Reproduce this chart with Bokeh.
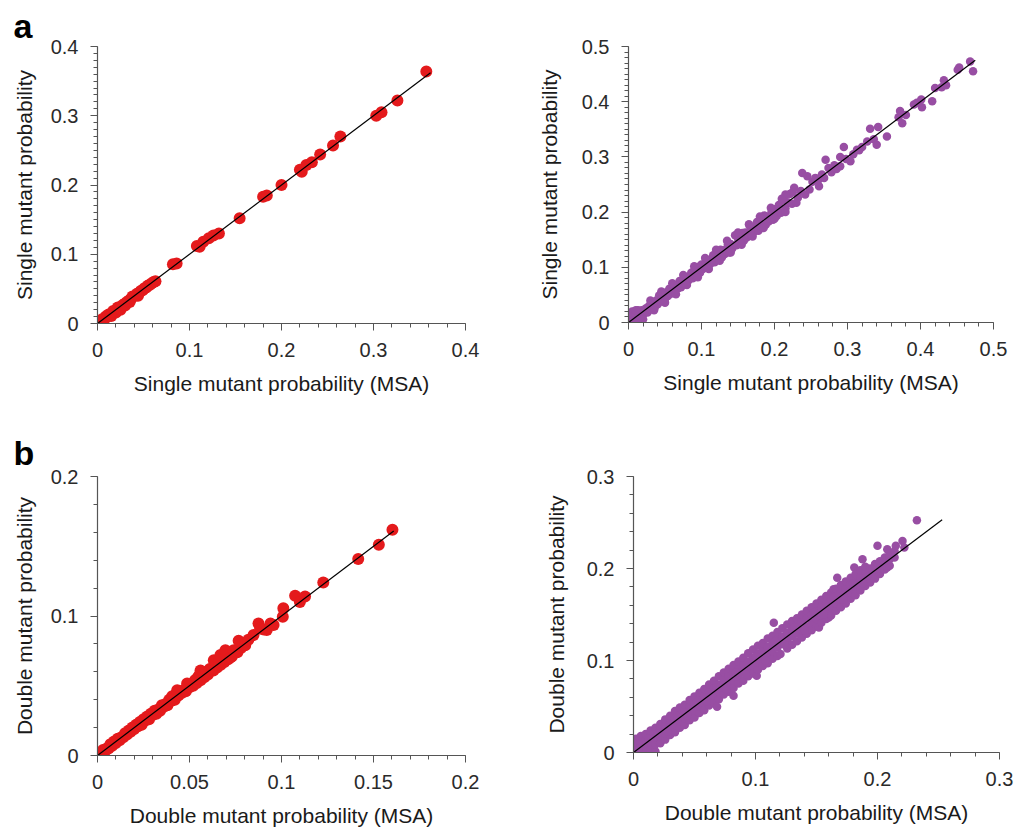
from bokeh.plotting import figure
from bokeh.layouts import column, row
from bokeh.models import Range1d, FixedTicker, Title
from bokeh.embed import file_html
from bokeh.resources import INLINE

# ---------------- data ----------------
# Panel a-left: single mutant probability, model (red) vs MSA
sm_red = [
    (0.000, 0.001), (0.001, 0.000), (0.002, 0.003), (0.003, 0.002), (0.004, 0.004),
    (0.005, 0.006), (0.006, 0.005), (0.008, 0.007), (0.009, 0.010), (0.011, 0.010),
    (0.012, 0.013), (0.014, 0.012), (0.016, 0.015), (0.017, 0.018), (0.019, 0.017),
    (0.021, 0.020), (0.022, 0.023), (0.024, 0.022), (0.026, 0.025), (0.028, 0.027),
    (0.030, 0.029), (0.032, 0.031), (0.034, 0.033), (0.036, 0.035), (0.038, 0.039),
    (0.041, 0.040), (0.043, 0.043), (0.045, 0.044), (0.047, 0.047), (0.049, 0.048),
    (0.051, 0.051), (0.053, 0.052), (0.055, 0.055), (0.057, 0.056), (0.059, 0.058),
    (0.061, 0.060), (0.063, 0.061), (0.015, 0.011), (0.020, 0.016), (0.025, 0.020),
    (0.030, 0.026), (0.035, 0.031), (0.044, 0.040),
    (0.082, 0.0855), (0.086, 0.0865), (0.108, 0.112), (0.111, 0.111), (0.115, 0.118),
    (0.121, 0.123), (0.126, 0.127), (0.132, 0.130), (0.1545, 0.152), (0.180, 0.183),
    (0.184, 0.185), (0.200, 0.200), (0.220, 0.222), (0.222, 0.219), (0.227, 0.229),
    (0.233, 0.233), (0.242, 0.244), (0.256, 0.257), (0.264, 0.270), (0.303, 0.300),
    (0.3087, 0.305), (0.326, 0.322), (0.3574, 0.364),
]
sm_red_fit = [0.0, 0.362]

# Panel a-right: single mutant probability, model (purple) vs MSA
sm_pur = [
    (0.001, 0.016), (0.002, 0.008), (0.004, 0.001), (0.005, 0.020), (0.006, 0.012),
    (0.008, 0.004), (0.010, 0.016), (0.012, 0.007), (0.013, 0.022), (0.014, 0.013),
    (0.016, 0.009), (0.018, 0.022), (0.020, 0.014), (0.022, 0.019), (0.024, 0.026),
    (0.026, 0.018), (0.028, 0.030), (0.030, 0.024), (0.032, 0.029), (0.034, 0.036),
    (0.036, 0.027), (0.038, 0.040), (0.040, 0.033), (0.042, 0.049), (0.044, 0.038),
    (0.046, 0.044), (0.048, 0.052), (0.050, 0.043), (0.052, 0.055), (0.054, 0.048),
    (0.056, 0.061), (0.058, 0.052), (0.060, 0.058), (0.062, 0.065), (0.064, 0.056),
    (0.066, 0.068), (0.068, 0.062), (0.070, 0.075), (0.072, 0.064), (0.074, 0.071),
    (0.076, 0.080), (0.078, 0.070), (0.080, 0.083), (0.082, 0.076), (0.084, 0.081),
    (0.086, 0.090), (0.088, 0.080), (0.090, 0.094), (0.092, 0.086), (0.094, 0.091),
    (0.096, 0.101), (0.098, 0.090), (0.100, 0.105), (0.102, 0.097), (0.104, 0.101),
    (0.106, 0.110), (0.108, 0.099), (0.110, 0.113), (0.112, 0.106), (0.114, 0.111),
    (0.116, 0.122), (0.118, 0.109), (0.120, 0.125), (0.122, 0.116), (0.124, 0.120),
    (0.126, 0.132), (0.128, 0.118), (0.130, 0.131), (0.132, 0.124), (0.134, 0.129),
    (0.136, 0.141), (0.138, 0.127), (0.140, 0.142), (0.142, 0.134), (0.144, 0.139),
    (0.146, 0.158), (0.148, 0.140), (0.150, 0.152), (0.152, 0.144), (0.154, 0.150),
    (0.156, 0.162), (0.158, 0.148), (0.160, 0.163), (0.162, 0.154), (0.164, 0.159),
    (0.166, 0.175), (0.168, 0.157), (0.170, 0.173), (0.172, 0.164), (0.174, 0.170),
    (0.176, 0.182), (0.178, 0.166), (0.180, 0.183), (0.182, 0.174), (0.184, 0.178),
    (0.186, 0.194), (0.188, 0.177), (0.190, 0.192), (0.192, 0.183), (0.194, 0.188),
    (0.196, 0.201), (0.198, 0.186), (0.200, 0.205), (0.203, 0.193), (0.206, 0.213),
    (0.209, 0.199), (0.212, 0.222), (0.215, 0.207), (0.218, 0.218), (0.221, 0.233),
    (0.224, 0.215), (0.215, 0.232), (0.227, 0.244), (0.232, 0.226), (0.236, 0.238),
    (0.238, 0.271), (0.242, 0.232), (0.245, 0.265), (0.248, 0.241), (0.252, 0.255),
    (0.256, 0.262), (0.260, 0.258), (0.261, 0.247), (0.265, 0.268), (0.268, 0.262),
    (0.270, 0.295), (0.274, 0.280), (0.278, 0.272), (0.282, 0.285), (0.285, 0.278),
    (0.290, 0.300), (0.290, 0.283), (0.295, 0.318), (0.298, 0.296), (0.304, 0.292),
    (0.308, 0.305), (0.313, 0.313), (0.316, 0.312), (0.320, 0.318), (0.327, 0.328),
    (0.331, 0.351), (0.336, 0.332), (0.340, 0.322), (0.342, 0.354), (0.354, 0.337),
    (0.370, 0.372), (0.372, 0.383), (0.375, 0.361), (0.380, 0.376), (0.391, 0.395),
    (0.395, 0.398), (0.401, 0.404), (0.402, 0.390), (0.416, 0.401), (0.420, 0.425),
    (0.429, 0.426), (0.432, 0.439), (0.435, 0.430), (0.451, 0.458), (0.453, 0.462),
    (0.468, 0.473), (0.472, 0.455),
    (0.010, 0.022), (0.020, 0.006), (0.030, 0.040), (0.035, 0.022), (0.045, 0.056),
    (0.050, 0.036), (0.060, 0.071), (0.065, 0.051), (0.075, 0.086), (0.080, 0.068),
    (0.090, 0.102), (0.095, 0.082), (0.105, 0.117), (0.110, 0.097), (0.120, 0.132),
    (0.125, 0.112), (0.135, 0.148), (0.140, 0.127), (0.150, 0.163), (0.155, 0.141),
    (0.165, 0.178), (0.170, 0.156), (0.180, 0.192), (0.185, 0.171), (0.195, 0.208),
    (0.200, 0.188), (0.210, 0.224), (0.215, 0.200), (0.225, 0.236), (0.230, 0.217),
]
sm_pur_fit = [0.0, 0.475]

# Panel b-left: double mutant probability, model (red) vs MSA
dm_red = [
    (0.000, 0.000), (0.001, 0.002), (0.002, 0.001), (0.003, 0.004), (0.004, 0.003),
    (0.005, 0.005), (0.006, 0.005), (0.007, 0.008), (0.008, 0.007), (0.009, 0.010),
    (0.010, 0.009), (0.011, 0.012), (0.012, 0.011), (0.013, 0.013), (0.014, 0.013),
    (0.015, 0.016), (0.016, 0.015), (0.017, 0.018), (0.018, 0.017), (0.019, 0.020),
    (0.020, 0.019), (0.021, 0.022), (0.022, 0.021), (0.023, 0.024), (0.024, 0.022),
    (0.025, 0.026), (0.026, 0.025), (0.027, 0.028), (0.028, 0.026), (0.029, 0.030),
    (0.030, 0.029), (0.031, 0.032), (0.032, 0.030), (0.033, 0.033), (0.034, 0.032),
    (0.035, 0.036), (0.036, 0.035), (0.037, 0.037), (0.038, 0.036), (0.039, 0.040),
    (0.040, 0.039), (0.041, 0.041), (0.042, 0.040), (0.043, 0.044), (0.044, 0.043),
    (0.045, 0.046), (0.046, 0.045), (0.047, 0.047), (0.048, 0.046), (0.049, 0.050),
    (0.050, 0.049), (0.051, 0.051), (0.052, 0.050), (0.053, 0.054), (0.054, 0.052),
    (0.055, 0.057), (0.056, 0.054), (0.057, 0.058), (0.058, 0.056), (0.059, 0.060),
    (0.060, 0.058), (0.061, 0.062), (0.062, 0.062), (0.063, 0.061), (0.064, 0.066),
    (0.065, 0.063), (0.066, 0.067), (0.067, 0.065), (0.068, 0.070), (0.069, 0.067),
    (0.070, 0.072), (0.071, 0.069), (0.072, 0.074), (0.073, 0.071), (0.074, 0.075),
    (0.076, 0.074), (0.078, 0.077), (0.0406, 0.0424), (0.0433, 0.0468), (0.0487, 0.0516),
    (0.054, 0.055), (0.056, 0.061), (0.0578, 0.0588), (0.0623, 0.0623), (0.0632, 0.0683),
    (0.066, 0.067), (0.0668, 0.072), (0.0695, 0.0755), (0.0722, 0.0703), (0.074, 0.0755),
    (0.0767, 0.0823), (0.0803, 0.0791), (0.082, 0.083), (0.0848, 0.0863), (0.0875, 0.0947),
    (0.0884, 0.0911), (0.0903, 0.0904), (0.092, 0.090), (0.094, 0.0947), (0.0957, 0.0935),
    (0.1007, 0.0995), (0.101, 0.1055), (0.1074, 0.1146), (0.110, 0.110), (0.1128, 0.1139),
    (0.1227, 0.124), (0.1417, 0.1408), (0.1529, 0.151), (0.1603, 0.1619),
]
dm_red_fit = [0.0, 0.161]

# Panel b-right: double mutant probability, model (purple) vs MSA
dm_pur = [
    (0.002, 0.000), (0.002, 0.008), (0.002, 0.015), (0.006, 0.001), (0.006, 0.010),
    (0.006, 0.018), (0.010, 0.000), (0.010, 0.006), (0.010, 0.014), (0.010, 0.020),
    (0.014, 0.003), (0.014, 0.011), (0.014, 0.019), (0.014, 0.024), (0.018, 0.001),
    (0.018, 0.009), (0.018, 0.016), (0.018, 0.027), (0.022, 0.010), (0.022, 0.017),
    (0.022, 0.025), (0.022, 0.031), (0.026, 0.014), (0.026, 0.021), (0.026, 0.029),
    (0.026, 0.036), (0.030, 0.019), (0.030, 0.026), (0.030, 0.033), (0.030, 0.040),
    (0.034, 0.022), (0.034, 0.030), (0.034, 0.037), (0.034, 0.045), (0.038, 0.027),
    (0.038, 0.034), (0.038, 0.041), (0.038, 0.049), (0.042, 0.030), (0.042, 0.037),
    (0.042, 0.045), (0.042, 0.052), (0.046, 0.035), (0.046, 0.042), (0.046, 0.050),
    (0.046, 0.057), (0.050, 0.038), (0.050, 0.046), (0.050, 0.053), (0.050, 0.061),
    (0.054, 0.043), (0.054, 0.050), (0.054, 0.058), (0.054, 0.065), (0.058, 0.046),
    (0.058, 0.054), (0.058, 0.061), (0.058, 0.069), (0.062, 0.051), (0.062, 0.058),
    (0.062, 0.066), (0.062, 0.074), (0.066, 0.054), (0.066, 0.062), (0.066, 0.070),
    (0.066, 0.078), (0.070, 0.058), (0.070, 0.066), (0.070, 0.074), (0.070, 0.083),
    (0.0685, 0.0496), (0.074, 0.063), (0.074, 0.071), (0.074, 0.079), (0.074, 0.087),
    (0.078, 0.066), (0.078, 0.074), (0.078, 0.083), (0.078, 0.091), (0.082, 0.0616),
    (0.082, 0.070), (0.082, 0.078), (0.082, 0.087), (0.082, 0.095), (0.086, 0.075),
    (0.086, 0.083), (0.086, 0.091), (0.086, 0.099), (0.090, 0.078), (0.090, 0.087),
    (0.090, 0.095), (0.090, 0.103), (0.094, 0.083), (0.094, 0.091), (0.094, 0.099),
    (0.094, 0.108), (0.098, 0.086), (0.098, 0.094), (0.098, 0.103), (0.098, 0.112),
    (0.101, 0.0833), (0.102, 0.090), (0.102, 0.098), (0.102, 0.107), (0.102, 0.116),
    (0.106, 0.094), (0.106, 0.102), (0.106, 0.111), (0.106, 0.119), (0.110, 0.097),
    (0.110, 0.106), (0.110, 0.115), (0.110, 0.124), (0.114, 0.102), (0.114, 0.110),
    (0.114, 0.119), (0.114, 0.127), (0.115, 0.141), (0.118, 0.105), (0.118, 0.114),
    (0.118, 0.123), (0.118, 0.131), (0.1205, 0.107), (0.122, 0.118), (0.122, 0.126),
    (0.122, 0.135), (0.126, 0.113), (0.126, 0.122), (0.126, 0.130), (0.126, 0.139),
    (0.130, 0.117), (0.130, 0.126), (0.130, 0.134), (0.130, 0.143), (0.134, 0.121),
    (0.134, 0.130), (0.134, 0.138), (0.134, 0.146), (0.138, 0.125), (0.138, 0.133),
    (0.138, 0.142), (0.138, 0.150), (0.142, 0.129), (0.142, 0.137), (0.142, 0.146),
    (0.142, 0.154), (0.146, 0.133), (0.146, 0.141), (0.146, 0.150), (0.146, 0.158),
    (0.150, 0.137), (0.150, 0.145), (0.150, 0.154), (0.150, 0.162), (0.152, 0.136),
    (0.154, 0.141), (0.154, 0.149), (0.154, 0.158), (0.154, 0.166), (0.158, 0.145),
    (0.158, 0.153), (0.158, 0.162), (0.158, 0.170), (0.160, 0.1467), (0.162, 0.149),
    (0.162, 0.157), (0.162, 0.166), (0.162, 0.174), (0.164, 0.1775), (0.166, 0.154),
    (0.166, 0.162), (0.166, 0.170), (0.166, 0.178), (0.167, 0.190), (0.170, 0.158),
    (0.170, 0.166), (0.170, 0.174), (0.170, 0.182), (0.174, 0.162), (0.174, 0.170),
    (0.174, 0.178), (0.174, 0.186), (0.178, 0.167), (0.178, 0.174), (0.178, 0.182),
    (0.178, 0.190), (0.181, 0.201), (0.182, 0.171), (0.182, 0.179), (0.182, 0.186),
    (0.182, 0.194), (0.186, 0.176), (0.186, 0.183), (0.186, 0.191), (0.186, 0.198),
    (0.1877, 0.210), (0.190, 0.181), (0.190, 0.188), (0.190, 0.196), (0.190, 0.202),
    (0.194, 0.1848), (0.194, 0.192), (0.194, 0.200), (0.198, 0.189), (0.198, 0.197),
    (0.198, 0.205), (0.200, 0.2246), (0.202, 0.194), (0.202, 0.200), (0.202, 0.208),
    (0.206, 0.199), (0.206, 0.206), (0.206, 0.212), (0.208, 0.201), (0.208, 0.221),
    (0.210, 0.203), (0.210, 0.210), (0.210, 0.216), (0.214, 0.212), (0.214, 0.219),
    (0.215, 0.2246), (0.2205, 0.230), (0.222, 0.2228), (0.2323, 0.2525),
    (0.004, 0.004), (0.012, 0.015), (0.020, 0.021), (0.028, 0.023), (0.036, 0.039),
    (0.044, 0.040), (0.052, 0.055), (0.060, 0.056), (0.068, 0.071), (0.076, 0.069),
    (0.084, 0.087), (0.092, 0.085), (0.100, 0.104), (0.108, 0.100), (0.116, 0.121),
    (0.124, 0.117), (0.132, 0.136), (0.140, 0.133), (0.148, 0.152), (0.156, 0.150),
    (0.164, 0.168), (0.172, 0.166), (0.180, 0.184), (0.188, 0.184), (0.196, 0.199),
]
dm_pur_fit = [0.0, 0.253]

# axis ticks and labels
sm_red_xticks = [0, 0.1, 0.2, 0.3, 0.4]
sm_red_xlabels = ["0", "0.1", "0.2", "0.3", "0.4"]
sm_red_yticks = [0, 0.1, 0.2, 0.3, 0.4]
sm_red_ylabels = ["0", "0.1", "0.2", "0.3", "0.4"]
sm_pur_xticks = [0, 0.1, 0.2, 0.3, 0.4, 0.5]
sm_pur_xlabels = ["0", "0.1", "0.2", "0.3", "0.4", "0.5"]
sm_pur_yticks = [0, 0.1, 0.2, 0.3, 0.4, 0.5]
sm_pur_ylabels = ["0", "0.1", "0.2", "0.3", "0.4", "0.5"]
dm_red_xticks = [0, 0.05, 0.1, 0.15, 0.2]
dm_red_xlabels = ["0", "0.05", "0.1", "0.15", "0.2"]
dm_red_yticks = [0, 0.1, 0.2]
dm_red_ylabels = ["0", "0.1", "0.2"]
dm_pur_xticks = [0, 0.1, 0.2, 0.3]
dm_pur_xlabels = ["0", "0.1", "0.2", "0.3"]
dm_pur_yticks = [0, 0.1, 0.2, 0.3]
dm_pur_ylabels = ["0", "0.1", "0.2", "0.3"]

single_xlabel = "Single mutant probability (MSA)"
single_ylabel = "Single mutant probability"
double_xlabel = "Double mutant probability (MSA)"
double_ylabel = "Double mutant probability"
panel_letters = ["a", "b"]

# ---------------- styling ----------------
RED = "#E41A1C"
PURPLE = "#984EA3"
FONT = "Liberation Sans"
AXIS_COLOR = "#555555"
TICK_TEXT = "#2a2a2a"
LABEL_TEXT = "#1a1a1a"


def minor(maxv, step):
    n = int(round(maxv / step))
    return [round(i * step, 5) for i in range(n + 1)]


def panel(points, fit, color, size, xt, xl, xstep, yt, yl, ystep,
          xlabel, ylabel, geom, ylab_standoff, letter=None, letter_standoff=5):
    left, right, top, bottom, fw, fh = geom
    p = figure(frame_width=fw, frame_height=fh,
               min_border_left=left, min_border_right=right,
               min_border_top=top, min_border_bottom=bottom,
               x_range=Range1d(0, xt[-1]), y_range=Range1d(0, yt[-1]),
               output_backend="svg", toolbar_location=None, tools="")
    p.grid.visible = False
    p.outline_line_color = None
    p.background_fill_color = "white"
    p.border_fill_color = "white"

    xs = [q[0] for q in points]
    ys = [q[1] for q in points]
    p.scatter(xs, ys, size=size, fill_color=color, line_color=None, marker="circle")
    p.line(fit, fit, line_color="black", line_width=1.2)

    p.xaxis.ticker = FixedTicker(ticks=xt, minor_ticks=minor(xt[-1], xstep))
    p.yaxis.ticker = FixedTicker(ticks=yt, minor_ticks=minor(yt[-1], ystep))
    p.xaxis.major_label_overrides = {t: l for t, l in zip(xt, xl)}
    p.yaxis.major_label_overrides = {t: l for t, l in zip(yt, yl)}
    p.xaxis.axis_label = xlabel
    p.yaxis.axis_label = ylabel
    for ax in (p.xaxis, p.yaxis):
        ax.axis_line_color = AXIS_COLOR
        ax.axis_line_width = 1.2
        ax.major_tick_line_color = AXIS_COLOR
        ax.minor_tick_line_color = AXIS_COLOR
        ax.major_tick_out = 7
        ax.major_tick_in = 0
        ax.minor_tick_out = 4
        ax.minor_tick_in = 0
        ax.major_label_text_font = FONT
        ax.major_label_text_font_size = "20px"
        ax.major_label_text_color = TICK_TEXT
        ax.major_label_standoff = 12
        ax.axis_label_text_font = FONT
        ax.axis_label_text_font_size = "21px"
        ax.axis_label_text_font_style = "normal"
        ax.axis_label_text_color = LABEL_TEXT
    p.xaxis.axis_label_standoff = 12
    p.yaxis.axis_label_standoff = ylab_standoff
    if letter:
        p.add_layout(Title(text=letter, align="left", offset=-84,
                           text_font=FONT, text_font_style="bold",
                           text_font_size="34px", text_color="black",
                           standoff=letter_standoff), "above")
    return p


p1 = panel(sm_red, sm_red_fit, RED, 12, sm_red_xticks, sm_red_xlabels, 0.02,
           sm_red_yticks, sm_red_ylabels, 0.01, single_xlabel, single_ylabel,
           (97, 43, 46, 94, 368, 277), 12, panel_letters[0], 4)
p2 = panel(sm_pur, sm_pur_fit, PURPLE, 8.5, sm_pur_xticks, sm_pur_xlabels, 0.02,
           sm_pur_yticks, sm_pur_ylabels, 0.01, single_xlabel, single_ylabel,
           (120, 23, 46, 95, 365, 276), 18)
p3 = panel(dm_red, dm_red_fit, RED, 12, dm_red_xticks, dm_red_xlabels, 0.01,
           dm_red_yticks, dm_red_ylabels, 0.02, double_xlabel, double_ylabel,
           (97, 43, 59, 79, 368, 279), 12, panel_letters[1], 10)
p4 = panel(dm_pur, dm_pur_fit, PURPLE, 8.5, dm_pur_xticks, dm_pur_xlabels, 0.02,
           dm_pur_yticks, dm_pur_ylabels, 0.02, double_xlabel, double_ylabel,
           (125, 17, 59, 82, 366, 276), 16)

layout = column(row(p1, p2), row(p3, p4))
open("out.html", "w").write(file_html(layout, INLINE))
